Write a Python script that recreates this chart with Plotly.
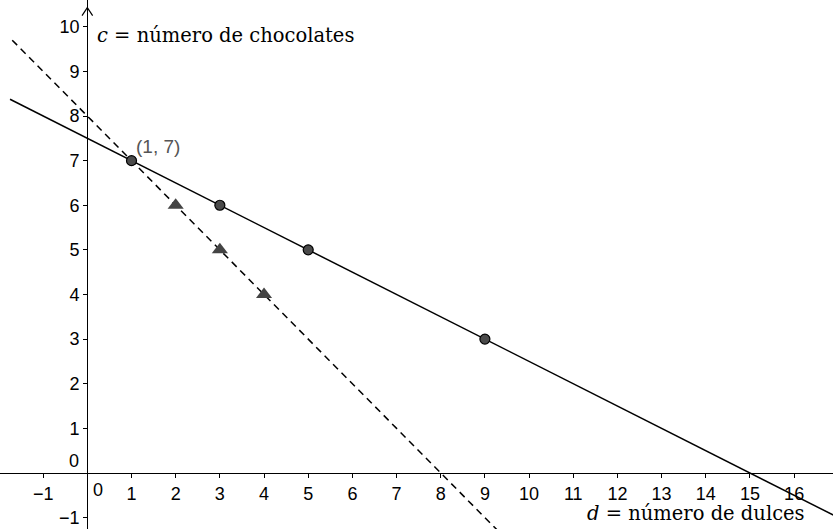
import plotly.graph_objects as go

# data
circle_d = [1, 3, 5, 9]
circle_c = [7, 6, 5, 3]
tri_d = [2, 3, 4]
tri_c = [6, 5, 4]
solid_d = [-1.75, 17.0]
solid_c = [8.375, -1.0]
dash_d = [-1.7, 9.5]
dash_c = [9.7, -1.5]
x_ticks = [-1] + list(range(1, 17))
y_ticks = [-1] + list(range(1, 11))
point_label = "(1, 7)"
x_title = "<i>d</i> = número de dulces"
y_title = "<i>c</i> = número de chocolates"

W, H = 833, 529
xmin, xmax = -1.977, 16.88
ymin, ymax = -1.256, 10.6

fig = go.Figure()
fig.add_trace(go.Scatter(x=solid_d, y=solid_c, mode="lines",
                         line=dict(color="black", width=1.5), hoverinfo="skip"))
fig.add_trace(go.Scatter(x=dash_d, y=dash_c, mode="lines",
                         line=dict(color="black", width=1.5, dash="7px,5px"), hoverinfo="skip"))
fig.add_trace(go.Scatter(x=tri_d, y=tri_c, mode="markers",
                         marker=dict(symbol="triangle-up", size=14, color="#444444",
                                     line=dict(width=0))))
fig.add_trace(go.Scatter(x=circle_d, y=circle_c, mode="markers",
                         marker=dict(symbol="circle", size=10, color="#4a4a4a",
                                     line=dict(width=1.2, color="black"))))

tickfont = dict(family="Liberation Sans, Arial, sans-serif", size=18, color="black")
fig.update_layout(
    width=W, height=H,
    margin=dict(l=0, r=0, t=0, b=0),
    paper_bgcolor="white", plot_bgcolor="white",
    showlegend=False,
    xaxis=dict(range=[xmin, xmax], showgrid=False, zeroline=False,
               anchor="free", position=(0 - ymin) / (ymax - ymin),
               showline=True, linecolor="black", linewidth=1.3,
               ticks="outside", ticklen=4, tickcolor="black", tickwidth=1,
               tickvals=x_ticks, tickfont=tickfont),
    yaxis=dict(range=[ymin, ymax], showgrid=False, zeroline=False,
               anchor="free", position=(0 - xmin) / (xmax - xmin),
               showline=True, linecolor="black", linewidth=1.3,
               ticks="outside", ticklen=4, tickcolor="black", tickwidth=1,
               tickvals=y_ticks, tickfont=tickfont),
)

serif = dict(family="DejaVu Serif, Liberation Serif, serif", size=19.5, color="black")
fig.add_annotation(x=0, y=ymax, xref="x", yref="y", text=y_title, showarrow=False,
                   xanchor="left", yanchor="top", xshift=8, yshift=-22, font=serif)
fig.add_annotation(x=xmax, y=ymin, xref="x", yref="y", text=x_title, showarrow=False,
                   xanchor="right", yanchor="bottom", xshift=-26, yshift=2, font=serif)
fig.add_annotation(x=circle_d[0], y=circle_c[0], text=point_label, showarrow=False,
                   xanchor="left", yanchor="bottom", xshift=2, yshift=2,
                   font=dict(family="Liberation Sans, Arial, sans-serif", size=19, color="#555555"))
# zero labels
fig.add_annotation(x=0, y=0, text="0", showarrow=False, xanchor="left", yanchor="top",
                   xshift=4, yshift=-5, font=tickfont)
fig.add_annotation(x=0, y=0, text="0", showarrow=False, xanchor="right", yanchor="bottom",
                   xshift=-6, yshift=0, font=tickfont)
# y-axis arrow
fig.add_shape(type="path", xref="x", yref="y",
              path=f"M {-0.12} {ymax-0.35} L 0 {ymax-0.17} L {0.12} {ymax-0.35}",
              line=dict(color="black", width=1.2))

fig.write_html("out.html", config={"displayModeBar": False},
               post_script="document.body.style.margin='0';document.body.style.overflow='hidden';")
